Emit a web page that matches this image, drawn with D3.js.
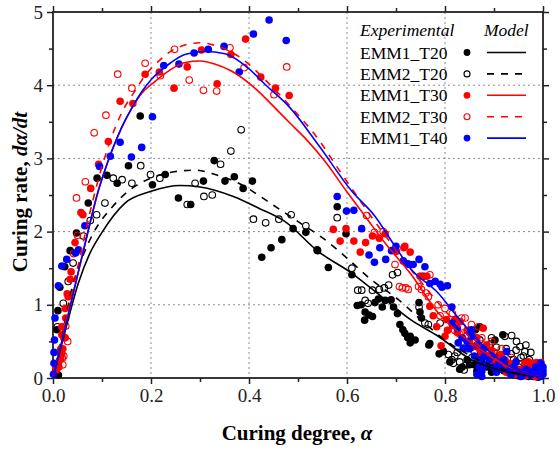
<!DOCTYPE html>
<html>
<head>
<meta charset="utf-8">
<script src="https://cdn.jsdelivr.net/npm/d3@7"></script>
<style>
  body { margin: 0; background: #fff; }
  text { font-family: "Liberation Serif", "Times New Roman", serif; }
</style>
</head>
<body>
<svg id="chart"></svg>
<script>
// experimental points [curing degree, curing rate]
var emm1T20 = [
  [0.006,0.05],[0.011,0.04],[0.008,0.66],[0.010,0.92],[0.014,1.24],[0.024,1.52],[0.035,1.74],
  [0.048,1.98],[0.072,2.39],
  [0.090,2.73],[0.110,2.77],[0.131,2.66],[0.154,2.90],[0.178,3.58],[0.203,2.64],[0.229,2.78],
  [0.256,2.46],[0.281,2.37],[0.307,2.69],[0.329,2.97],[0.351,2.69],[0.370,2.75],[0.388,2.59],
  [0.407,2.69],[0.426,1.65],[0.445,1.78],[0.467,1.89],[0.490,2.04],[0.516,1.99],[0.540,1.74],
  [0.562,1.51],[0.580,2.34],[0.598,1.97],[0.610,1.41],[0.621,0.99],[0.629,1.00],[0.637,0.90],
  [0.645,0.86],[0.652,0.84],[0.636,0.79],[0.657,1.03],[0.664,1.08],[0.678,1.06],[0.690,1.07],
  [0.672,0.97],[0.695,0.97],[0.703,0.88],[0.708,0.73],[0.714,0.66],[0.718,0.61],[0.724,0.55],
  [0.729,0.48],[0.729,0.57],[0.739,0.52],[0.747,1.03],[0.749,0.90],[0.752,0.82],[0.756,1.39],
  [0.767,0.45],[0.769,0.47],[0.788,0.33],[0.797,0.36],[0.810,0.22],[0.830,0.12],[0.835,0.15],
  [0.845,0.25],[0.850,0.18],[0.860,0.18],[0.862,0.66],[0.865,0.10],[0.871,0.70],[0.875,0.22],
  [0.880,0.30],[0.885,0.15],[0.895,0.08],[0.900,0.20],[0.902,0.52],[0.905,0.12],[0.910,0.30],
  [0.918,0.59],[0.920,0.10],[0.925,0.20],[0.930,0.07],[0.940,0.05],[0.945,0.12],[0.950,0.03],
  [0.960,0.03],[0.965,0.06],[0.970,0.02],[0.980,0.02],[0.990,0.01]
];
var emm2T20 = [
  [0.009,0.70],[0.021,1.02],[0.031,1.32],[0.041,1.57],[0.062,1.94],[0.076,2.15],[0.089,2.23],
  [0.106,2.39],
  [0.123,2.73],[0.141,2.71],[0.161,2.66],[0.179,2.90],[0.199,2.78],[0.218,2.73],[0.274,2.37],
  [0.290,2.66],[0.308,2.48],[0.325,2.50],[0.342,2.92],[0.363,3.10],[0.384,3.39],[0.409,2.17],
  [0.434,2.12],[0.461,2.17],[0.486,2.23],[0.516,2.08],[0.539,1.75],[0.580,2.19],
  [0.610,1.50],[0.622,1.20],[0.630,1.20],[0.637,1.06],[0.643,1.02],[0.652,1.20],[0.666,1.21],
  [0.676,1.23],[0.685,1.27],[0.693,1.41],[0.703,1.44],[0.747,0.97],[0.759,0.75],
  [0.766,0.73],[0.790,0.75],[0.807,0.32],[0.814,0.25],[0.817,0.20],[0.820,0.30],[0.825,0.35],
  [0.830,0.22],[0.839,0.11],[0.844,0.18],[0.845,0.40],[0.850,0.45],[0.855,0.28],[0.860,0.35],
  [0.865,0.20],[0.871,0.52],[0.875,0.33],[0.880,0.40],[0.885,0.25],[0.890,0.45],[0.895,0.55],
  [0.900,0.35],[0.905,0.42],[0.910,0.30],[0.915,0.22],[0.922,0.57],[0.925,0.40],[0.930,0.15],
  [0.935,0.33],[0.936,0.58],[0.940,0.25],[0.945,0.38],[0.946,0.50],[0.950,0.15],[0.953,0.43],
  [0.955,0.28],[0.960,0.30],[0.963,0.36],[0.965,0.45],[0.970,0.10],[0.972,0.25],[0.975,0.35],
  [0.980,0.05],[0.985,0.15],[0.990,0.05]
];
var emm1T30 = [
  [0.006,0.15],[0.007,0.11],[0.011,0.20],[0.012,0.15],[0.015,0.25],[0.016,0.30],[0.014,0.36],
  [0.016,0.40],[0.018,0.33],[0.020,0.40],[0.018,0.59],[0.022,0.55],[0.025,0.55],[0.018,0.70],
  [0.026,0.82],[0.025,0.95],[0.031,1.11],[0.029,1.15],[0.035,1.35],[0.037,1.45],[0.045,1.85],
  [0.057,2.26],[0.061,2.23],[0.077,2.59],[0.093,2.92],[0.113,3.23],
  [0.137,3.78],[0.163,3.75],[0.188,4.15],[0.217,4.18],[0.247,3.96],[0.274,4.25],[0.303,4.48],
  [0.335,4.02],[0.363,4.42],[0.393,4.63],[0.424,4.11],[0.454,3.96],[0.482,3.86],[0.572,2.03],
  [0.598,2.04],[0.586,1.87],[0.614,1.87],[0.638,1.85],[0.627,1.72],[0.652,1.94],[0.666,1.91],
  [0.678,1.97],[0.701,1.73],[0.716,1.78],[0.718,1.80],[0.729,1.72],[0.749,1.39],[0.751,1.39],
  [0.763,1.39],[0.769,0.98],[0.776,0.85],[0.783,0.70],[0.792,0.44],[0.800,0.57],[0.803,0.80],
  [0.805,0.65],[0.815,0.72],[0.820,0.80],[0.825,0.62],[0.831,0.77],[0.835,0.55],[0.845,0.65],
  [0.850,0.50],[0.855,0.42],[0.865,0.55],[0.870,0.40],[0.875,0.35],[0.878,0.68],[0.885,0.45],
  [0.890,0.30],[0.895,0.38],[0.900,0.20],[0.905,0.25],[0.915,0.32],[0.920,0.15],[0.925,0.08],
  [0.935,0.18],[0.940,0.10],[0.945,0.05],[0.955,0.12],[0.960,0.08],[0.963,0.20],[0.965,0.03],
  [0.970,0.22],[0.975,0.15],[0.980,0.10],[0.980,0.20],[0.985,0.02],[0.987,0.21],[0.990,0.05],
  [0.995,0.08],[0.996,0.21]
];
var emm2T30 = [
  [0.019,0.27],[0.022,0.30],[0.020,0.18],[0.030,0.50],[0.026,0.71],[0.042,1.70],[0.050,1.95],
  [0.048,2.46],[0.066,2.68],[0.084,3.35],[0.108,3.59],[0.132,4.15],
  [0.161,3.96],[0.188,4.30],[0.219,4.13],[0.248,4.49],[0.278,4.07],[0.307,3.93],[0.334,3.92],
  [0.361,4.51],[0.390,4.24],[0.451,3.87],[0.477,4.25],[0.640,2.22],[0.656,1.99],[0.674,2.00],
  [0.698,1.55],[0.707,1.25],[0.713,1.23],[0.720,1.23],[0.725,1.21],[0.746,1.25],[0.752,1.21],
  [0.761,1.16],[0.766,1.11],[0.769,1.41],[0.786,1.00],[0.790,0.85],[0.800,0.95],[0.815,0.88],
  [0.820,0.65],[0.830,0.60],[0.834,0.82],[0.835,0.70],[0.841,0.82],[0.845,0.58],[0.854,0.73],
  [0.855,0.60],[0.860,0.50],[0.865,0.45],[0.868,0.70],[0.875,0.55],[0.880,0.45],[0.885,0.38],
  [0.895,0.50],[0.900,0.35],[0.905,0.30],[0.915,0.40],[0.920,0.25],[0.925,0.20],[0.935,0.28],
  [0.940,0.15],[0.945,0.12],[0.955,0.18],[0.960,0.10],[0.965,0.05],[0.975,0.10],[0.980,0.05],
  [0.985,0.02],[0.990,0.12],[0.995,0.06]
];
var emm1T40 = [
  [0.001,0.05],[0.002,0.20],[0.002,0.35],[0.003,0.52],[0.004,0.82],[0.011,1.26],[0.018,1.53],
  [0.028,1.62],[0.046,1.71],[0.052,1.75],[0.065,2.08],
  [0.095,2.89],[0.117,3.03],[0.137,3.22],[0.160,3.02],[0.181,3.15],[0.203,3.57],
  [0.226,4.27],[0.257,4.29],[0.288,4.44],[0.317,4.49],[0.349,4.53],[0.380,4.18],[0.409,4.70],
  [0.441,4.89],[0.476,4.61],[0.580,2.48],[0.599,2.28],[0.614,2.29],[0.630,2.04],[0.645,1.68],
  [0.656,1.58],[0.667,1.78],[0.679,1.62],[0.691,1.74],[0.700,1.80],[0.715,1.60],[0.724,1.56],
  [0.727,1.55],[0.735,1.55],[0.747,1.62],[0.759,1.52],[0.769,1.29],[0.780,1.32],[0.790,1.28],
  [0.794,1.24],[0.805,1.26],[0.814,0.97],[0.815,0.75],[0.825,0.68],[0.827,0.48],[0.835,0.55],
  [0.837,0.41],[0.845,0.50],[0.850,0.40],[0.851,0.61],[0.854,0.66],[0.855,0.57],[0.860,0.30],
  [0.865,0.45],[0.865,0.05],[0.870,0.15],[0.870,0.25],[0.875,0.09],[0.875,0.02],[0.878,0.40],
  [0.880,0.30],[0.885,0.18],[0.890,0.25],[0.895,0.30],[0.900,0.15],[0.905,0.08],[0.910,0.20],
  [0.915,0.12],[0.920,0.25],[0.926,0.36],[0.930,0.10],[0.935,0.05],[0.940,0.15],[0.945,0.22],
  [0.950,0.08],[0.955,0.02],[0.960,0.05],[0.965,0.12],[0.970,0.10],[0.975,0.04],[0.980,0.08],
  [0.985,0.15],[0.990,0.05],[0.990,0.10],[0.995,0.02],[0.995,0.20],[1.000,0.05],[1.000,0.10],
  [1.000,0.15]
];

// model curves
var modelEMM1T20 = [
  [0.000,0.00],[0.024,0.62],[0.052,1.30],[0.075,1.70],[0.099,1.98],[0.147,2.39],[0.200,2.55],
  [0.259,2.63],[0.300,2.61],[0.368,2.48],[0.420,2.32],[0.473,2.14],[0.541,1.73],[0.610,1.43],
  [0.678,1.07],[0.729,0.80],[0.786,0.57],[0.854,0.25],[0.922,0.09],[0.990,0.02],[1.000,0.01]
];
var modelEMM2T20 = [
  [0.000,0.00],[0.020,0.62],[0.038,1.21],[0.060,1.65],[0.084,2.00],[0.120,2.33],[0.157,2.57],
  [0.200,2.73],[0.250,2.82],[0.290,2.84],[0.331,2.78],[0.385,2.64],[0.412,2.53],[0.450,2.36],
  [0.504,2.12],[0.555,1.89],[0.603,1.62],[0.650,1.34],[0.705,1.07],[0.750,0.80],[0.800,0.52],
  [0.850,0.31],[0.900,0.16],[0.950,0.06],[1.000,0.00]
];
var modelEMM1T30 = [
  [0.000,0.00],[0.020,0.55],[0.040,1.12],[0.060,1.68],[0.075,2.10],[0.090,2.50],[0.105,2.82],
  [0.120,3.10],[0.140,3.42],[0.157,3.64],[0.180,3.88],[0.208,4.05],[0.239,4.21],[0.270,4.31],
  [0.300,4.33],[0.330,4.29],[0.365,4.19],[0.412,3.96],[0.453,3.69],[0.484,3.48],[0.514,3.28],
  [0.555,2.96],[0.599,2.55],[0.637,2.21],[0.678,1.84],[0.729,1.43],[0.786,0.89],[0.854,0.48],
  [0.922,0.18],[0.990,0.02],[1.000,0.01]
];
var modelEMM2T30 = [
  [0.000,0.00],[0.020,0.60],[0.040,1.20],[0.060,1.80],[0.075,2.25],[0.090,2.65],[0.105,3.00],
  [0.120,3.30],[0.140,3.62],[0.167,3.92],[0.190,4.15],[0.208,4.28],[0.250,4.50],[0.300,4.58],
  [0.337,4.53],[0.392,4.33],[0.426,4.12],[0.494,3.64],[0.535,3.32],[0.586,2.82],[0.650,2.20],
  [0.700,1.75],[0.750,1.32],[0.800,0.92],[0.850,0.56],[0.900,0.28],[0.950,0.10],[1.000,0.01]
];
var modelEMM1T40 = [
  [0.000,0.00],[0.020,0.55],[0.040,1.12],[0.060,1.68],[0.075,2.10],[0.090,2.50],[0.105,2.82],
  [0.120,3.10],[0.140,3.42],[0.161,3.69],[0.180,3.90],[0.201,4.08],[0.239,4.30],[0.269,4.42],
  [0.310,4.46],[0.351,4.43],[0.399,4.23],[0.433,4.01],[0.484,3.69],[0.541,3.19],[0.610,2.55],
  [0.657,2.21],[0.698,1.80],[0.729,1.50],[0.786,1.16],[0.814,0.93],[0.854,0.61],[0.922,0.20],
  [0.990,0.02],[1.000,0.01]
];

var seriesNames = ["EMM1_T20", "EMM2_T20", "EMM1_T30", "EMM2_T30", "EMM1_T40"];
var xTicks = [0, 0.2, 0.4, 0.6, 0.8, 1.0];
var yTicks = [0, 1, 2, 3, 4, 5];

var margin = { top: 12, right: 17, bottom: 76, left: 53 },
    width = 560 - margin.left - margin.right,
    height = 454 - margin.top - margin.bottom;

var svg = d3.select("#chart")
    .attr("width", width + margin.left + margin.right)
    .attr("height", height + margin.top + margin.bottom);

var g = svg.append("g")
    .attr("transform", "translate(" + margin.left + "," + margin.top + ")");

var x = d3.scaleLinear().domain([0, 1]).range([0, width]);
var y = d3.scaleLinear().domain([0, 5]).range([height, 0]);

// dotted grid
g.append("g").selectAll("line").data(xTicks.slice(1, -1)).enter().append("line")
    .attr("x1", d => x(d)).attr("x2", d => x(d)).attr("y1", 0).attr("y2", height)
    .attr("stroke", "#8c8c8c").attr("stroke-dasharray", "2,3");
g.append("g").selectAll("line").data(yTicks.slice(1, -1)).enter().append("line")
    .attr("y1", d => y(d)).attr("y2", d => y(d)).attr("x1", 0).attr("x2", width)
    .attr("stroke", "#8c8c8c").attr("stroke-dasharray", "2,3");

var xMinor = d3.range(0.1, 1, 0.2), yMinor = d3.range(0.5, 5, 1);

function styleAxis(sel) {
    sel.select(".domain").remove();
    sel.selectAll("line").attr("stroke", "#222").attr("stroke-width", 1.5);
    sel.selectAll("text").style("font-size", "19px").attr("fill", "#222")
        .style("font-family", "'Liberation Serif', 'Times New Roman', serif");
}

g.append("g").attr("transform", "translate(0," + height + ")")
    .call(d3.axisBottom(x).tickValues(xTicks).tickFormat(d3.format(".1f")).tickSize(6).tickPadding(5))
    .call(styleAxis);
g.append("g").attr("transform", "translate(0," + height + ")")
    .call(d3.axisBottom(x).tickValues(xMinor).tickFormat("").tickSize(4)).call(styleAxis);
g.append("g")
    .call(d3.axisTop(x).tickValues(xTicks).tickFormat("").tickSize(6)).call(styleAxis);
g.append("g")
    .call(d3.axisTop(x).tickValues(xMinor).tickFormat("").tickSize(4)).call(styleAxis);

g.append("g")
    .call(d3.axisLeft(y).tickValues(yTicks).tickFormat(d3.format("d")).tickSize(6).tickPadding(4))
    .call(styleAxis);
g.append("g")
    .call(d3.axisLeft(y).tickValues(yMinor).tickFormat("").tickSize(4)).call(styleAxis);
g.append("g").attr("transform", "translate(" + width + ",0)")
    .call(d3.axisRight(y).tickValues(yTicks).tickFormat("").tickSize(6)).call(styleAxis);
g.append("g").attr("transform", "translate(" + width + ",0)")
    .call(d3.axisRight(y).tickValues(yMinor).tickFormat("").tickSize(4)).call(styleAxis);

// frame
g.append("rect").attr("width", width).attr("height", height)
    .attr("fill", "none").attr("stroke", "#222").attr("stroke-width", 1.8);

// points
var pointSets = [
    { data: emm1T20, color: "#000", open: false },
    { data: emm2T20, color: "#000", open: true },
    { data: emm1T30, color: "#ff0000", open: false },
    { data: emm2T30, color: "#ff0000", open: true },
    { data: emm1T40, color: "#0000ff", open: false }
];
pointSets.forEach(function (s) {
    g.append("g").selectAll("circle").data(s.data).enter().append("circle")
        .attr("cx", d => x(d[0])).attr("cy", d => y(d[1])).attr("r", s.open ? 3.3 : 3.8)
        .attr("fill", s.open ? "none" : s.color)
        .attr("stroke", s.color).attr("stroke-width", s.open ? 1.1 : 0);
});

// model lines
var line = d3.line().x(d => x(d[0])).y(d => y(d[1])).curve(d3.curveMonotoneX);
var modelSets = [
    { data: modelEMM1T20, color: "#000", dash: null },
    { data: modelEMM2T20, color: "#000", dash: "7,7" },
    { data: modelEMM1T30, color: "#ff0000", dash: null },
    { data: modelEMM2T30, color: "#ff0000", dash: "7,7" },
    { data: modelEMM1T40, color: "#0000ff", dash: null }
];
modelSets.forEach(function (s) {
    g.append("path").datum(s.data).attr("d", line)
        .attr("fill", "none").attr("stroke", s.color).attr("stroke-width", 1.6)
        .attr("stroke-dasharray", s.dash);
});

// legend
var leg = svg.append("g");
leg.append("text").attr("x", 360).attr("y", 36).style("font-size", "17.5px")
    .style("font-style", "italic").text("Experimental");
leg.append("text").attr("x", 484).attr("y", 36).style("font-size", "17.5px")
    .style("font-style", "italic").text("Model");
seriesNames.forEach(function (name, i) {
    var cy = 52.5 + i * 21.4;
    leg.append("text").attr("x", 360).attr("y", cy + 6).style("font-size", "17.5px").text(name);
    leg.append("circle").attr("cx", 467).attr("cy", cy).attr("r", pointSets[i].open ? 3 : 3.4)
        .attr("fill", pointSets[i].open ? "#fff" : pointSets[i].color)
        .attr("stroke", pointSets[i].color).attr("stroke-width", pointSets[i].open ? 1.1 : 0);
    leg.append("line").attr("x1", 487).attr("x2", 526).attr("y1", cy).attr("y2", cy)
        .attr("stroke", modelSets[i].color).attr("stroke-width", 1.6)
        .attr("stroke-dasharray", modelSets[i].dash);
});

// axis titles
var xt = svg.append("text").attr("x", 297).attr("y", 440).attr("text-anchor", "middle")
    .style("font-size", "21px").style("font-weight", "bold");
xt.append("tspan").text("Curing degree, ");
xt.append("tspan").style("font-style", "italic").text("α");

var yt = svg.append("text").attr("transform", "translate(27,192) rotate(-90)")
    .attr("text-anchor", "middle").style("font-size", "21px").style("font-weight", "bold");
yt.append("tspan").text("Curing rate, ");
yt.append("tspan").style("font-style", "italic").text("dα/dt");
</script>
</body>
</html>
